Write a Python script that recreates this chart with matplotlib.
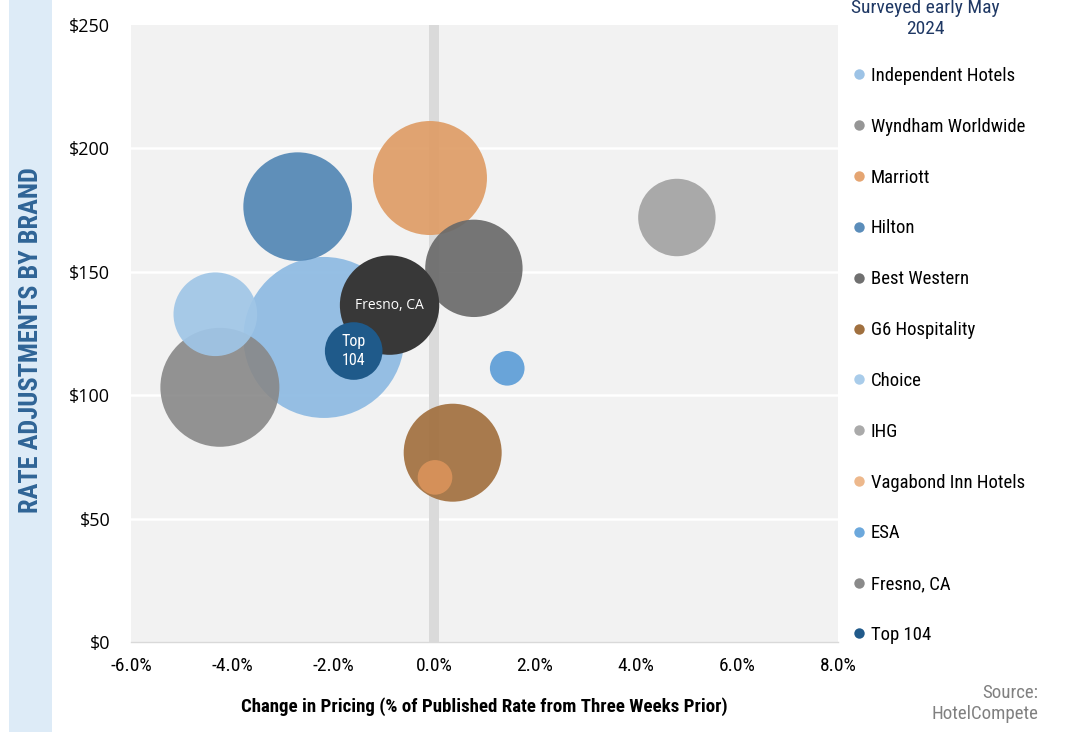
import matplotlib
matplotlib.use("Agg")
import matplotlib.pyplot as plt
from matplotlib.lines import Line2D
from matplotlib.patches import Rectangle

brands = ["Independent Hotels", "Wyndham Worldwide", "Marriott", "Hilton", "Best Western",
          "G6 Hospitality", "Choice", "IHG", "Vagabond Inn Hotels", "ESA", "Fresno, CA", "Top 104"]
price_change = [-2.18, -4.24, -0.08, -2.70, 0.79, 0.37, -4.33, 4.81, 0.02, 1.45, -0.88, -1.59]
rate = [123.4, 103.2, 188.0, 176.4, 151.4, 76.7, 132.8, 172.0, 66.7, 110.9, 136.5, 117.9]
bubble_size = [64.8, 35.4, 32.5, 29.5, 23.7, 24.0, 17.5, 15.0, 3.0, 3.0, 24.7, 8.3]
colors = ["#8DBAE2", "#888888", "#DF9D66", "#5387B5", "#6A6A6A", "#A2703F",
          "#A0C6E7", "#A5A5A5", "#D8925A", "#62A0D8", "#383838", "#1F5A8A"]
legend_colors = ["#9DC3E6", "#969696", "#E5A572", "#5B8DBA", "#707070", "#A0703F",
                 "#A9CCEA", "#AAAAAA", "#EDB88C", "#6CA8DC", "#8A8A8A", "#215A8A"]
alphas = [0.92, 0.9, 0.92, 0.92, 0.92, 0.92, 0.92, 0.95, 0.95, 0.95, 1.0, 1.0]
x_ticks = [-6, -4, -2, 0, 2, 4, 6, 8]
y_ticks = [0, 50, 100, 150, 200, 250]

narrow = ["Roboto Condensed", "Archivo Narrow", "DejaVu Sans"]
plain = ["Open Sans", "DejaVu Sans"]

fig = plt.figure(figsize=(10.79, 7.32), dpi=100)
fig.patches.append(Rectangle((9 / 1079, 0), 43 / 1079, 1, transform=fig.transFigure,
                             facecolor="#DDEBF7", edgecolor="none", zorder=0))

ax = fig.add_axes([131 / 1079, 90 / 732, 707 / 1079, 617 / 732])
ax.set_facecolor("#F2F2F2")
ax.set_xlim(-6, 8)
ax.set_ylim(0, 250)

for yv in y_ticks[1:-1]:
    ax.axhline(yv, color="white", lw=1.8, zorder=1)
ax.axvspan(-0.09, 0.09, color="#DADADA", zorder=1.5, lw=0)

scale = (2 * 72 / 100) ** 2 * 100
for i in range(len(brands)):
    ax.scatter(price_change[i], rate[i], s=bubble_size[i] * scale, color=colors[i],
               alpha=alphas[i], edgecolors="none", zorder=2 + i)

ax.text(price_change[10], rate[10], "Fresno, CA", color="white", ha="center", va="center",
        fontsize=10, family=plain, zorder=20)
ax.text(price_change[11], rate[11], "Top\n104", color="white", ha="center", va="center",
        fontsize=11.5, family=narrow, linespacing=1.35, zorder=20)

for s in ["top", "left", "right"]:
    ax.spines[s].set_visible(False)
ax.spines["bottom"].set_color("#D9D9D9")
ax.spines["bottom"].set_linewidth(1)
ax.spines["bottom"].set_zorder(0.5)

ax.set_xticks(x_ticks)
ax.set_xticklabels([f"{v:.1f}%" for v in x_ticks], family=narrow, fontsize=14)
ax.set_yticks(y_ticks)
ax.set_yticklabels([f"${v}" for v in y_ticks], family=plain, fontsize=13)
ax.tick_params(axis="both", length=0)
ax.tick_params(axis="x", pad=11)
ax.tick_params(axis="y", pad=15)

ax.set_xlabel("Change in Pricing (% of Published Rate from Three Weeks Prior)",
              family=narrow, fontsize=13.6, fontweight="bold", labelpad=16)

fig.text(31 / 1079, 1 - 340 / 732, "RATE ADJUSTMENTS BY BRAND", rotation=90, ha="center",
         va="center", color="#2F6496", fontsize=19, fontweight="bold", family=narrow)

fig.text(925 / 1079, 1 - 8 / 732, "Surveyed early May", ha="center", va="center",
         color="#1F3864", fontsize=14, family=narrow)
fig.text(925 / 1079, 1 - 29 / 732, "2024", ha="center", va="center",
         color="#1F3864", fontsize=14, family=narrow)

handles = [Line2D([], [], marker="o", linestyle="none", markersize=7.5,
                  markerfacecolor=c, markeredgecolor="none") for c in legend_colors]
leg = fig.legend(handles, brands, loc="upper left", bbox_to_anchor=(849 / 1079, 1 - 67 / 732),
                 frameon=False, prop={"family": narrow, "size": 13.5}, handletextpad=0.05,
                 handlelength=1.1, labelspacing=1.75, borderaxespad=0, borderpad=0)

fig.text(1038 / 1079, 1 - 693 / 732, "Source:", ha="right", va="center", color="#808080",
         fontsize=13.6, family=narrow)
fig.text(1038 / 1079, 1 - 714 / 732, "HotelCompete", ha="right", va="center", color="#808080",
         fontsize=13.6, family=narrow)

fig.savefig("out.png", dpi=100)
